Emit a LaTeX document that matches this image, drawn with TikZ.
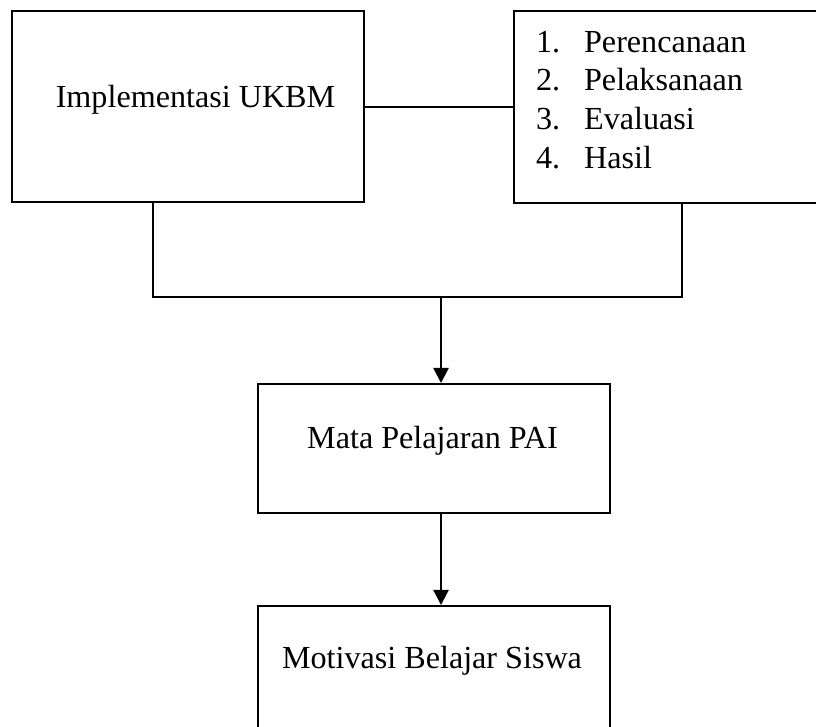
\documentclass[tikz,border=0pt]{standalone}
\usepackage{fontspec}
\setmainfont{Liberation Serif}
\usetikzlibrary{arrows.meta, positioning}

\begin{document}
\begin{tikzpicture}[x=0.364pt, y=-0.364pt, line width=0.8pt,
    >={Triangle[length=5.5pt, width=5.5pt]},
    font=\fontsize{11.7}{14}\selectfont,
    box/.style={draw, line width=0.85pt, inner sep=0pt, anchor=north west},
    txt/.style={inner sep=0pt, anchor=base}]
  \useasboundingbox (0,0) rectangle (816,726);
  \clip (0,0) rectangle (816,726);
  % Boxes
  \node[box, minimum width=352*0.364pt, minimum height=191*0.364pt] (impl) at (11,10) {};
  \node[box, minimum width=320*0.364pt, minimum height=192*0.364pt] (tahap) at (513,10) {};
  \node[box, minimum width=352*0.364pt, minimum height=129*0.364pt] (mapel) at (257,383) {};
  \node[box, minimum width=352*0.364pt, minimum height=160*0.364pt] (motiv) at (257,605) {};
  % Texts
  \node[txt] (implT) at (195.5,107) {Implementasi UKBM};
  \node[txt] (mapelT) at (432.5,448) {Mata Pelajaran PAI};
  \node[txt] (motivT) at (432,668) {Motivasi Belajar Siswa};
  \foreach \n/\item [count=\i] in {1/Perencanaan, 2/Pelaksanaan, 3/Evaluasi, 4/Hasil} {
    \node[txt, anchor=base west] (num\i) at (535, 52+38.7*\i-38.7) {\n.};
    \node[txt, anchor=base west] (item\i) at (583, 52+38.7*\i-38.7) {\item};
  }
  % Connectors
  \coordinate (jl) at (153,297);
  \coordinate (jr) at (682,297);
  \coordinate (jm) at (441,297);
  \draw (impl.east) -- (impl.east -| tahap.west);
  \draw (impl.south -| jl) -- (jl) -- (jr) -- (tahap.south -| jr);
  \draw[->] (jm) -- (mapel.north -| jm);
  \draw[->] (mapel.south -| jm) -- (motiv.north -| jm);
\end{tikzpicture}
\end{document}
